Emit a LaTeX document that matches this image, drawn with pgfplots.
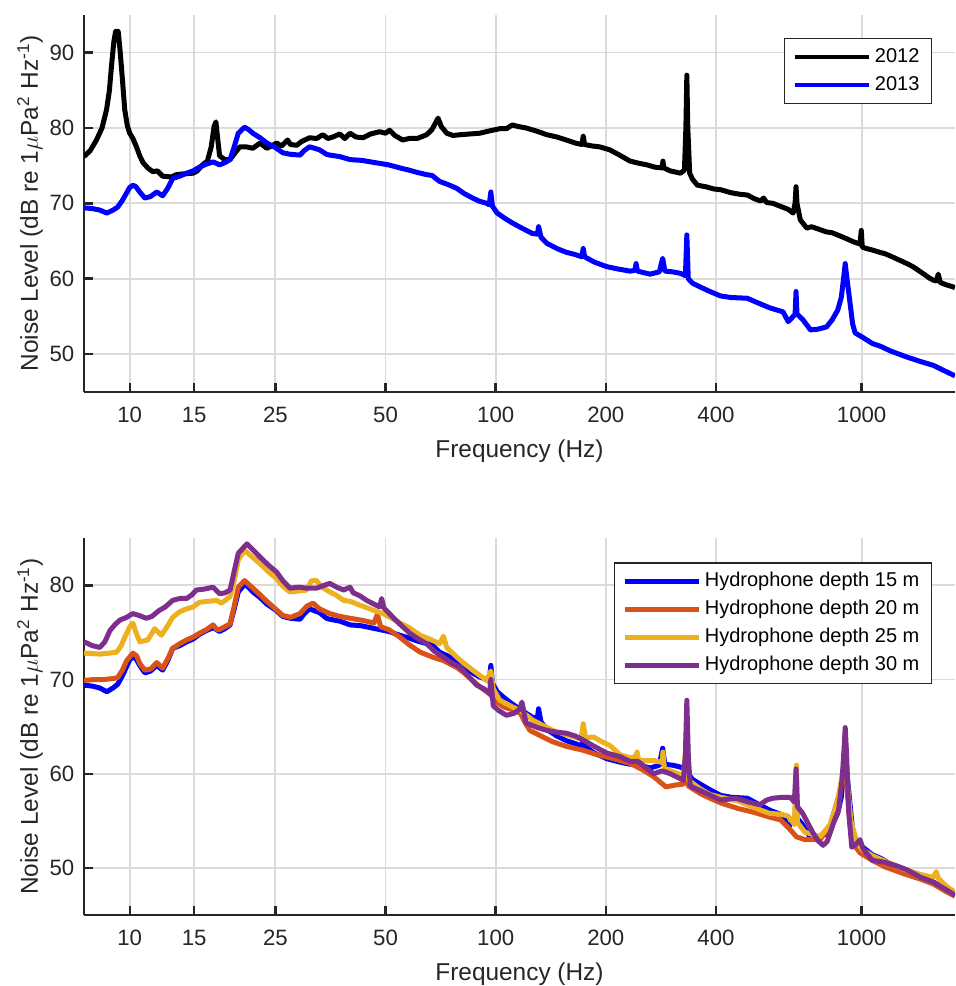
\documentclass[border=0pt]{standalone}
\usepackage{fontspec}
\setmainfont{Liberation Sans}
\usepackage{pgfplots}
\pgfplotsset{compat=1.18}

\definecolor{mlorange}{rgb}{0.850,0.325,0.098}
\definecolor{mlyellow}{rgb}{0.929,0.694,0.125}
\definecolor{mlpurple}{rgb}{0.494,0.184,0.556}
\definecolor{axgray}{rgb}{0.15,0.15,0.15}
\definecolor{gridgray}{rgb}{0.86,0.86,0.86}

\pgfplotsset{
  legend image code/.code={\draw[#1, line width=2.2pt] (0pt,0pt) -- (37pt,0pt);},
  every axis plot/.append style={line width=2.5pt, line join=round},
  every axis/.append style={
    scale only axis, width=435.5pt, height=188.4pt,
    xmin=7.5, xmax=1800, ymin=45,
    xtick={10,15,25,50,100,200,400,1000},
    xticklabels={10,15,25,50,100,200,400,1000},
    xminorticks=false, yminorticks=false,
    axis x line*=bottom, axis y line*=left,
    axis line style={axgray, line width=1.2pt, -},
    tick align=inside, major tick length=4.5pt,
    tick style={axgray, line width=1.2pt},
    xmajorgrids, ymajorgrids,
    grid style={gridgray, line width=0.9pt},
    tick label style={font=\fontsize{11.1}{13}\selectfont, text=axgray},
    xticklabel style={yshift=-4.2pt},
    yticklabel style={xshift=-1.3pt},
    legend cell align=left,
    legend style={anchor=north east, draw=axgray, line width=0.6pt, fill=white,
      inner xsep=4pt, inner ysep=2.2pt, font=\fontsize{10}{12}\selectfont, text=black,
      nodes={inner sep=2pt, text height=7.6pt, text depth=2.4pt},
      row sep=0pt, column sep=0pt},
  },
  every axis x label/.style={at={(axis description cs:0.5,-0.158)}, anchor=center, text=axgray, font=\fontsize{12.2}{14}\selectfont},
  every axis y label/.style={at={(axis description cs:-0.062,0.5)}, rotate=90, anchor=center, text=axgray, font=\fontsize{12.2}{14}\selectfont},
}

\begin{document}
\begin{tikzpicture}
\useasboundingbox (-42pt,-297.15pt) rectangle (435.5pt,195.85pt);

\begin{semilogxaxis}[at={(0,0)}, anchor=south west, ymax=95,
  ytick={50,60,70,80,90}, yticklabels={50,60,70,80,90},
  xlabel={Frequency (Hz)},
  ylabel={Noise Level (dB re 1$\mu$Pa\textsuperscript{2} Hz\textsuperscript{-1})},
  legend style={at={(axis description cs:0.9736,0.939)}}]
\addplot[black] coordinates {
(7.5,76.2) (7.8,77.0) (8.11,78.4) (8.4,80.0) (8.64,82.4) (8.8,85.0) (8.91,88.1) (9.05,91.5) (9.15,92.8) (9.3,92.8) (9.4,90.5) (9.49,88.1) (9.6,85.0) (9.69,82.4) (9.85,80.3) (10.0,79.3) (10.2,78.6) (10.43,77.5) (10.65,76.3) (10.87,75.4) (11.2,74.7) (11.56,74.2) (11.9,74.3) (12.3,73.6) (13.0,73.5) (13.4,73.8) (14.0,73.9) (14.9,74.0) (15.3,74.3) (15.8,75.1) (16.3,75.6) (16.7,77.5) (17.0,80.2) (17.2,80.8) (17.4,78.5) (17.6,76.3) (18.2,75.8) (18.8,75.8) (19.4,76.7) (20.0,77.5) (20.8,77.5) (21.7,77.3) (22.7,78.0) (23.7,77.3) (24.4,77.6) (25.2,78.0) (26.0,77.6) (27.0,78.4) (27.5,77.8) (28.6,77.7) (29.5,78.2) (31.0,78.7) (32.4,78.6) (33.7,79.1) (34.8,78.6) (35.9,78.8) (37.5,79.2) (38.7,78.6) (40.0,79.3) (41.5,78.8) (43.4,78.7) (45.5,79.2) (48.2,79.5) (50.0,79.3) (51.3,79.7) (53.0,79.0) (55.7,78.4) (58.0,78.6) (61.0,78.6) (64.8,79.1) (67.0,79.8) (69.6,81.3) (71.0,80.2) (73.5,79.3) (76.5,79.0) (79.9,79.1) (85.0,79.2) (90.5,79.3) (96.0,79.6) (102.6,79.9) (107.0,79.9) (111.0,80.4) (115.0,80.2) (121.0,80.0) (129.0,79.6) (138.0,79.1) (147.0,78.8) (156.0,78.4) (165.0,78.0) (172.0,77.8) (173.5,78.9) (175.0,77.8) (184.0,77.6) (192.0,77.5) (205.0,77.1) (218.0,76.4) (233.0,75.6) (247.0,75.3) (259.0,75.1) (272.0,74.8) (285.0,74.7) (286.5,75.6) (288.0,74.7) (300.0,74.3) (320.0,74.0) (328.0,74.4) (331.0,80.0) (333.0,87.0) (335.0,80.0) (339.0,74.0) (345.0,73.2) (356.0,72.4) (375.0,72.2) (395.0,71.9) (412.0,71.8) (440.0,71.4) (465.0,71.2) (487.0,71.1) (510.0,70.6) (530.0,70.3) (540.0,70.7) (550.0,70.1) (572.0,70.0) (600.0,69.6) (630.0,69.2) (650.0,68.7) (658.0,70.0) (662.0,72.2) (666.0,70.0) (680.0,67.8) (709.0,66.7) (730.0,66.9) (760.0,66.6) (802.0,66.2) (830.0,66.1) (870.0,65.7) (910.0,65.3) (949.0,64.9) (990.0,64.6) (998.0,66.4) (1004.0,64.2) (1030.0,64.0) (1070.0,63.8) (1120.0,63.5) (1160.0,63.3) (1200.0,63.0) (1250.0,62.6) (1290.0,62.3) (1330.0,62.0) (1380.0,61.6) (1430.0,61.1) (1480.0,60.6) (1530.0,60.1) (1570.0,59.8) (1600.0,59.7) (1620.0,60.6) (1640.0,59.5) (1700.0,59.2) (1780.0,58.9) (1800.0,58.8)
};
\addlegendentry{2012}
\addplot[blue] coordinates {
(7.5,69.4) (7.9,69.3) (8.28,69.1) (8.66,68.7) (9.0,69.1) (9.27,69.5) (9.55,70.4) (9.81,71.4) (10.0,72.1) (10.2,72.4) (10.4,72.2) (10.65,71.5) (11.0,70.7) (11.4,70.9) (11.85,71.5) (12.3,71.0) (12.7,72.0) (13.1,73.3) (13.7,73.6) (14.3,74.0) (14.9,74.3) (15.5,74.8) (16.2,75.2) (16.9,75.5) (17.6,75.1) (18.2,75.4) (18.8,75.8) (19.3,77.5) (19.8,79.3) (20.6,80.1) (21.1,79.8) (21.7,79.3) (22.7,78.7) (23.7,78.0) (25.0,77.4) (26.2,76.7) (27.5,76.5) (29.2,76.4) (30.0,77.0) (31.0,77.5) (32.0,77.3) (33.0,77.1) (34.5,76.5) (35.2,76.4) (37.5,76.2) (40.0,75.8) (43.0,75.7) (45.5,75.5) (48.2,75.3) (51.0,75.1) (54.7,74.7) (58.0,74.4) (61.0,74.1) (64.8,73.8) (67.0,73.7) (70.3,72.9) (74.0,72.5) (78.2,72.0) (82.0,71.3) (86.5,70.7) (90.0,70.3) (94.5,70.0) (96.0,69.8) (97.0,71.5) (98.0,69.6) (101.0,68.7) (106.0,68.0) (111.0,67.4) (118.0,66.7) (126.0,66.0) (130.0,65.9) (131.0,66.9) (133.0,65.5) (138.0,64.7) (147.0,64.0) (156.0,63.5) (165.0,63.2) (172.0,62.9) (173.5,64.0) (175.0,62.9) (186.0,62.2) (201.0,61.6) (215.0,61.3) (233.0,61.0) (240.0,61.1) (242.0,62.0) (244.0,61.0) (264.0,60.6) (280.0,60.9) (286.0,62.7) (290.0,61.0) (305.0,60.9) (320.0,60.7) (330.0,60.4) (333.0,65.8) (336.0,60.0) (345.0,59.4) (362.0,58.9) (385.0,58.3) (412.0,57.7) (440.0,57.5) (487.0,57.4) (520.0,56.8) (563.0,56.1) (610.0,55.6) (630.0,54.3) (645.0,54.8) (658.0,55.3) (662.0,58.3) (666.0,55.3) (690.0,54.6) (725.0,53.2) (760.0,53.3) (802.0,53.6) (830.0,54.5) (860.0,55.8) (880.0,57.5) (895.0,60.5) (902.0,62.0) (912.0,60.0) (928.0,57.1) (945.0,54.0) (960.0,52.8) (1000.0,52.3) (1070.0,51.4) (1130.0,51.0) (1200.0,50.4) (1330.0,49.6) (1450.0,49.0) (1570.0,48.5) (1680.0,47.8) (1800.0,47.1)
};
\addlegendentry{2013}
\end{semilogxaxis}

\begin{semilogxaxis}[at={(0,-261.65pt)}, anchor=south west, ymax=85,
  ytick={50,60,70,80}, yticklabels={50,60,70,80},
  xlabel={Frequency (Hz)},
  ylabel={Noise Level (dB re 1$\mu$Pa\textsuperscript{2} Hz\textsuperscript{-1})},
  legend style={at={(axis description cs:0.9736,0.936)}}]
\addplot[blue] coordinates {
(7.5,69.4) (7.9,69.3) (8.28,69.1) (8.66,68.7) (9.0,69.1) (9.27,69.5) (9.55,70.4) (9.81,71.4) (10.0,72.1) (10.2,72.4) (10.4,72.2) (10.65,71.5) (11.0,70.7) (11.4,70.9) (11.85,71.5) (12.3,71.0) (12.7,72.0) (13.1,73.3) (13.7,73.6) (14.3,74.0) (14.9,74.3) (15.5,74.8) (16.2,75.2) (16.9,75.5) (17.6,75.1) (18.2,75.4) (18.8,75.8) (19.3,77.5) (19.8,79.3) (20.6,80.1) (21.1,79.8) (21.7,79.3) (22.7,78.7) (23.7,78.0) (25.0,77.4) (26.2,76.7) (27.5,76.5) (29.2,76.4) (30.0,77.0) (31.0,77.5) (32.0,77.3) (33.0,77.1) (34.5,76.5) (35.2,76.4) (37.5,76.2) (40.0,75.8) (43.0,75.7) (45.5,75.5) (48.2,75.3) (51.0,75.1) (54.7,74.7) (58.0,74.4) (61.0,74.1) (64.8,73.8) (67.0,73.7) (70.3,72.9) (74.0,72.5) (78.2,72.0) (82.0,71.3) (86.5,70.7) (90.0,70.3) (94.5,70.0) (96.0,69.8) (97.0,71.5) (98.0,69.6) (101.0,68.7) (106.0,68.0) (111.0,67.4) (118.0,66.7) (126.0,66.0) (130.0,65.9) (131.0,66.9) (133.0,65.5) (138.0,64.7) (147.0,64.0) (156.0,63.5) (165.0,63.2) (172.0,62.9) (173.5,64.0) (175.0,62.9) (186.0,62.2) (201.0,61.6) (215.0,61.3) (233.0,61.0) (240.0,61.1) (242.0,62.0) (244.0,61.0) (264.0,60.6) (280.0,60.9) (286.0,62.7) (290.0,61.0) (305.0,60.9) (320.0,60.7) (330.0,60.4) (333.0,65.8) (336.0,60.0) (345.0,59.4) (362.0,58.9) (385.0,58.3) (412.0,57.7) (440.0,57.5) (487.0,57.4) (520.0,56.8) (563.0,56.1) (610.0,55.6) (630.0,54.3) (645.0,54.8) (658.0,55.3) (662.0,58.3) (666.0,55.3) (690.0,54.6) (725.0,53.2) (760.0,53.3) (802.0,53.6) (830.0,54.5) (860.0,55.8) (880.0,57.5) (895.0,60.5) (902.0,62.0) (912.0,60.0) (928.0,57.1) (945.0,54.0) (960.0,52.8) (1000.0,52.3) (1070.0,51.4) (1130.0,51.0) (1200.0,50.4) (1330.0,49.6) (1450.0,49.0) (1570.0,48.5) (1680.0,47.8) (1800.0,47.1)
};
\addlegendentry{Hydrophone depth 15 m}
\addplot[mlorange] coordinates {
(7.5,69.9) (8.0,70.0) (8.5,70.0) (9.0,70.1) (9.27,70.2) (9.55,71.0) (9.81,72.0) (10.2,72.8) (10.45,72.5) (10.65,71.7) (11.0,71.0) (11.4,71.1) (11.85,71.8) (12.3,71.2) (12.7,72.2) (13.1,73.3) (13.7,73.8) (14.3,74.2) (14.9,74.5) (15.5,74.9) (16.2,75.3) (16.9,75.8) (17.3,75.3) (17.6,75.3) (18.8,75.9) (19.3,77.8) (19.8,79.8) (20.6,80.5) (21.7,79.7) (22.7,79.0) (23.7,78.3) (25.0,77.5) (26.2,76.8) (27.5,76.6) (29.2,77.0) (30.5,77.8) (31.7,78.1) (33.0,77.5) (35.2,77.0) (37.5,76.7) (40.0,76.5) (43.0,76.3) (46.5,76.0) (47.5,76.9) (48.5,75.6) (51.0,75.3) (54.7,74.5) (58.0,73.7) (62.2,72.9) (67.0,72.4) (72.0,72.0) (78.2,71.3) (82.0,70.7) (86.5,69.9) (90.0,69.3) (96.2,68.5) (100.0,67.7) (105.0,67.1) (111.0,66.8) (117.0,66.4) (120.0,65.5) (124.0,64.6) (133.0,64.0) (143.0,63.4) (156.0,62.9) (173.0,62.5) (190.0,62.0) (205.0,61.7) (233.0,61.1) (250.0,60.5) (270.0,59.7) (292.0,58.6) (310.0,58.8) (326.0,58.9) (333.0,60.0) (336.0,58.7) (362.0,57.9) (385.0,57.4) (412.0,56.9) (460.0,56.3) (508.0,55.9) (560.0,55.4) (600.0,55.1) (630.0,54.3) (664.0,53.3) (700.0,53.0) (770.0,53.0) (820.0,54.5) (860.0,57.2) (895.0,60.0) (902.0,61.0) (912.0,58.5) (930.0,54.5) (960.0,52.3) (990.0,51.6) (1070.0,50.8) (1160.0,50.1) (1300.0,49.4) (1450.0,48.8) (1570.0,48.3) (1700.0,47.5) (1800.0,47.0)
};
\addlegendentry{Hydrophone depth 20 m}
\addplot[mlyellow] coordinates {
(7.5,72.8) (8.28,72.7) (8.8,72.8) (9.2,72.9) (9.45,73.5) (9.7,74.5) (10.0,75.6) (10.2,76.0) (10.4,75.0) (10.65,74.0) (11.2,74.2) (11.7,75.4) (12.2,74.7) (12.6,75.5) (13.1,76.6) (13.7,77.2) (14.3,77.5) (14.9,77.7) (15.5,78.2) (16.4,78.3) (17.3,78.4) (17.8,78.1) (18.8,78.8) (19.3,80.5) (19.8,82.7) (20.6,83.7) (21.5,83.1) (22.7,82.3) (24.0,81.4) (25.2,80.7) (26.2,79.9) (27.4,79.3) (29.0,79.4) (30.4,79.5) (31.4,80.5) (32.4,80.5) (33.5,79.8) (35.2,79.3) (36.5,79.0) (38.4,78.4) (40.0,78.3) (42.5,77.9) (46.0,77.4) (49.2,77.0) (52.0,76.5) (54.7,76.0) (58.0,75.5) (62.2,74.7) (66.0,74.3) (70.3,73.8) (72.0,74.6) (73.5,73.4) (78.2,72.4) (82.0,71.7) (86.5,71.0) (94.5,69.9) (97.0,70.9) (98.5,69.0) (102.6,67.8) (111.0,67.1) (118.0,66.6) (126.0,65.7) (143.0,64.6) (160.0,64.0) (171.0,63.7) (173.5,65.3) (176.0,63.8) (185.0,63.9) (195.0,63.4) (205.0,63.0) (219.0,62.0) (233.0,61.7) (242.0,61.8) (243.5,62.3) (246.0,61.4) (270.0,61.4) (285.0,61.2) (286.5,62.3) (289.0,60.6) (300.0,60.3) (326.0,59.8) (333.0,64.0) (337.0,59.3) (362.0,58.4) (385.0,57.8) (412.0,57.5) (460.0,57.1) (508.0,56.4) (560.0,55.8) (600.0,55.7) (630.0,55.5) (655.0,54.6) (664.0,60.9) (668.0,54.8) (700.0,53.8) (770.0,53.3) (820.0,54.6) (860.0,57.0) (895.0,61.0) (902.0,62.3) (912.0,59.5) (935.0,55.0) (970.0,52.8) (1000.0,52.0) (1070.0,51.3) (1160.0,50.7) (1300.0,49.9) (1450.0,49.3) (1570.0,49.0) (1600.0,49.6) (1620.0,48.9) (1700.0,48.1) (1800.0,47.4)
};
\addlegendentry{Hydrophone depth 25 m}
\addplot[mlpurple] coordinates {
(7.5,74.0) (7.9,73.6) (8.28,73.4) (8.55,74.0) (8.83,75.2) (9.1,75.8) (9.39,76.3) (9.8,76.6) (10.2,77.0) (10.6,76.8) (11.1,76.5) (11.5,76.7) (12.0,77.3) (12.5,77.7) (13.1,78.4) (13.7,78.6) (14.3,78.6) (14.8,79.0) (15.2,79.5) (16.0,79.6) (16.9,79.8) (17.3,79.4) (17.6,79.1) (18.2,79.2) (18.8,79.5) (19.3,81.5) (19.8,83.4) (20.9,84.4) (21.8,83.7) (22.7,83.0) (24.0,82.1) (25.2,81.4) (26.2,80.5) (27.4,79.7) (29.0,79.8) (30.4,79.7) (32.4,79.7) (34.0,80.0) (35.2,80.2) (36.8,79.8) (38.4,79.5) (40.0,79.8) (40.8,79.2) (42.5,78.9) (44.4,78.4) (48.2,77.7) (48.8,78.6) (49.5,77.6) (52.4,76.6) (55.0,75.8) (58.3,74.9) (61.5,74.3) (64.8,73.8) (68.0,73.0) (71.8,72.4) (75.5,71.8) (79.9,71.3) (84.0,70.4) (88.8,69.4) (93.0,69.0) (96.2,68.5) (97.0,70.0) (98.5,67.2) (102.0,66.7) (107.0,66.2) (112.0,66.4) (116.0,66.8) (118.0,67.6) (121.0,65.4) (130.0,64.9) (138.0,64.6) (147.0,64.4) (156.0,64.3) (165.0,64.0) (173.0,63.6) (186.0,62.9) (201.0,62.2) (219.0,61.8) (233.0,61.3) (245.0,61.3) (270.0,60.0) (285.0,60.3) (300.0,60.0) (326.0,59.3) (330.0,62.0) (333.0,67.8) (336.0,62.0) (340.0,58.8) (344.0,58.6) (377.0,57.9) (412.0,57.2) (454.0,57.4) (490.0,57.0) (527.0,56.7) (550.0,57.2) (572.0,57.4) (610.0,57.5) (638.0,57.5) (655.0,57.0) (662.0,60.5) (668.0,56.5) (690.0,55.8) (712.0,54.8) (737.0,53.7) (760.0,52.9) (785.0,52.4) (805.0,52.8) (820.0,53.7) (842.0,55.0) (865.0,56.1) (885.0,59.5) (895.0,62.5) (902.0,64.9) (910.0,62.0) (922.0,56.0) (940.0,52.2) (965.0,52.5) (990.0,53.0) (1010.0,52.0) (1070.0,50.8) (1160.0,50.6) (1250.0,50.2) (1330.0,49.8) (1450.0,49.0) (1570.0,48.5) (1700.0,47.7) (1800.0,47.1)
};
\addlegendentry{Hydrophone depth 30 m}
\end{semilogxaxis}
\end{tikzpicture}
\end{document}
